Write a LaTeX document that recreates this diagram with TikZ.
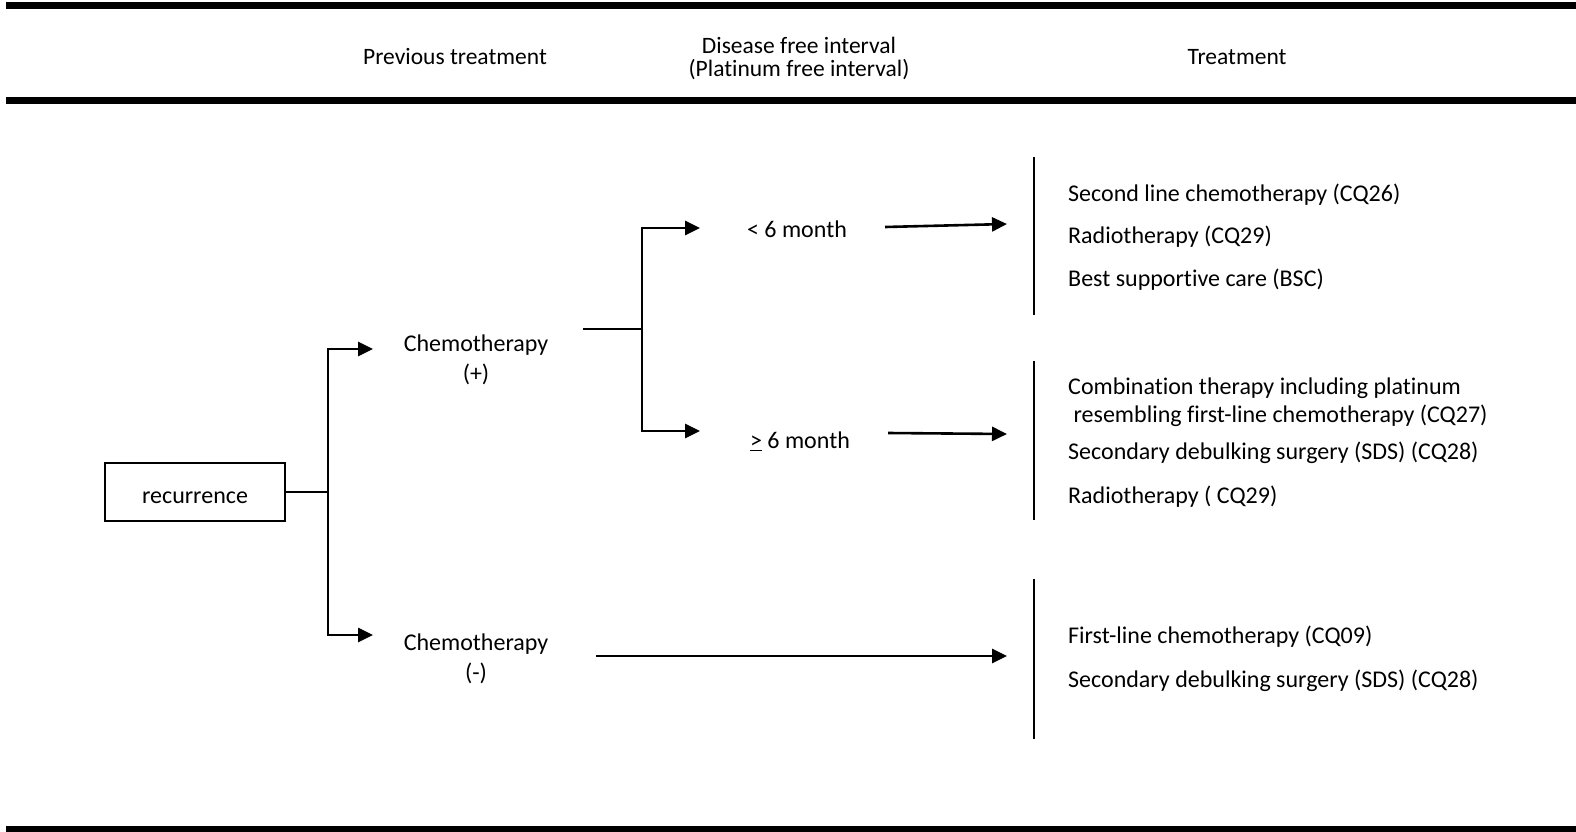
\documentclass[tikz,border=0pt]{standalone}
\usepackage{fontspec}
\setmainfont[Ligatures=NoCommon]{Carlito}
\usetikzlibrary{arrows.meta}
\begin{document}
\begin{tikzpicture}[x=1pt,y=-1pt,
  txt/.style={inner sep=0pt, font=\fontsize{24}{29.5}\selectfont},
  head/.style={inner sep=0pt, font=\fontsize{23.5}{23}\selectfont},
  item/.style={txt, anchor=west},
  link/.style={line width=2.6pt},
  arr/.style={link, -{Triangle[length=15pt,width=14pt]}},
  rule/.style={line width=7pt},
  bracket/.style={line width=2.6pt}]
\useasboundingbox (0,0) rectangle (1576,832);

% table rules
\draw[rule] (6,5.5) -- (1576,5.5);
\draw[rule] (6,100.5) -- (1576,100.5);
\draw[rule] (6,829) -- (1576,829);

% column headings
\node[head] (hprev) at (455,57) {Previous treatment};
\node[head, align=center] (hdfi) at (799,58) {Disease free interval\\(Platinum free interval)};
\node[head] (htreat) at (1237,57) {Treatment};

% start box
\node[txt, draw, line width=1.4pt, minimum width=180pt, text height=40pt, text depth=18pt] (rec) at (195,492) {recurrence};

% previous treatment
\node[txt, align=center] (cplus) at (476,360) {Chemotherapy\\(+)};
\node[txt, align=center] (cminus) at (476,659) {Chemotherapy\\(-)};

% intervals
\node[txt] (lt) at (797,229) {< 6 month};
\node[txt] (ge) at (800,441) {\underline{>} 6 month};

% branch from recurrence
\coordinate (j1) at (328,492);
\draw[link] (rec.east) -- (j1);
\draw[arr] (j1) |- (373,349) coordinate (a1);
\draw[arr] (j1) |- (373,635) coordinate (a2);

% branch from chemotherapy (+)
\coordinate (c0) at (583,329);
\coordinate (j2) at (642,329);
\draw[link] (c0) -- (j2);
\draw[arr] (j2) |- (700,228) coordinate (b1);
\draw[arr] (j2) |- (700,431) coordinate (b2);

% treatment brackets
\draw[bracket] (1034,157) coordinate (t1top) -- (1034,315) coordinate (t1bot);
\draw[bracket] (1034,361) coordinate (t2top) -- (1034,520) coordinate (t2bot);
\draw[bracket] (1034,579) coordinate (t3top) -- (1034,739) coordinate (t3bot);

% arrows to treatments
\coordinate (s1) at (885,227);
\coordinate (e1) at (1007,224);
\draw[arr] (s1) -- (e1);
\coordinate (s2) at (888,433);
\coordinate (e2) at (1007,434);
\draw[arr] (s2) -- (e2);
\coordinate (s3) at (596,656);
\coordinate (e3) at (1007,656);
\draw[arr] (s3) -- (e3);

% treatment options
\node[item] (o1) at (1068,195) {Second line chemotherapy (CQ26)};
\node[item] (o2) at (1068,237) {Radiotherapy (CQ29)};
\node[item] (o3) at (1068,280) {Best supportive care (BSC)};
\node[item] (o4) at (1068,388) {Combination therapy including platinum};
\node[item] (o5) at (1068,416) {\ resembling first-line chemotherapy (CQ27)};
\node[item] (o6) at (1068,453) {Secondary debulking surgery (SDS) (CQ28)};
\node[item] (o7) at (1068,497) {Radiotherapy ( CQ29)};
\node[item] (o8) at (1068,637) {First-line chemotherapy (CQ09)};
\node[item] (o9) at (1068,681) {Secondary debulking surgery (SDS) (CQ28)};
\end{tikzpicture}
\end{document}
